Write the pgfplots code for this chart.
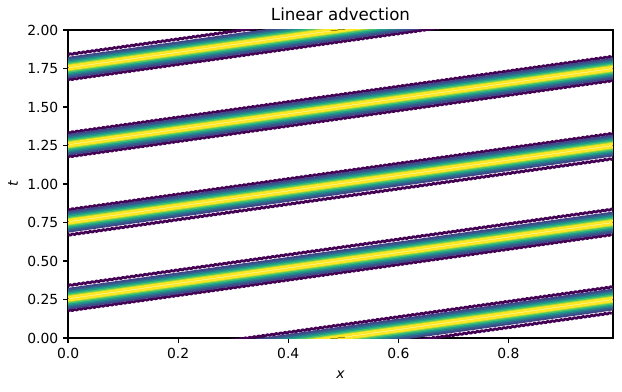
\documentclass[border=0pt]{standalone}
\usepackage{fontspec}
\setmainfont{DejaVu Sans}
\usepackage{pgfplots}
\pgfplotsset{compat=1.18}
\usetikzlibrary{decorations.pathmorphing}
\definecolor{v0}{HTML}{440154}
\definecolor{v1}{HTML}{414487}
\definecolor{v2}{HTML}{365C8D}
\definecolor{v3}{HTML}{277F8E}
\definecolor{v4}{HTML}{1FA187}
\definecolor{v5}{HTML}{4AC16D}
\definecolor{v6}{HTML}{A0DA39}
\definecolor{v7}{HTML}{FDE725}
\begin{document}
\begin{tikzpicture}
\begin{axis}[
  scale only axis,
  width=392.4pt, height=221.8pt,
  xmin=0, xmax=0.99, ymin=0, ymax=2,
  xtick={0,0.2,0.4,0.6,0.8},
  ytick={0,0.25,0.5,0.75,1,1.25,1.5,1.75,2},
  xticklabel style={/pgf/number format/.cd,fixed,fixed zerofill,precision=1},
  yticklabel style={/pgf/number format/.cd,fixed,fixed zerofill,precision=2},
  /pgf/number format/assume math mode=true,
  tick label style={font=\fontsize{10}{12}\selectfont},
  label style={font=\fontsize{10}{12}\selectfont},
  xlabel style={yshift=-2pt},
  tick align=outside, tick pos=left,
  major tick length=3.5pt,
  every tick/.style={black, line width=0.8pt},
  axis line style={line width=0.8pt},
  xlabel={\textit{x}}, ylabel={\textit{t}},
  title={Linear advection},
  title style={font=\fontsize{12}{14}\selectfont, yshift=-3pt},
  unbounded coords=jump,
  every axis plot/.append style={line width=1.5pt, no markers},
]
% level 0 (outer, wiggly)
\addplot[color=v0, line width=1.9pt, line join=round, decorate, decoration={snake, amplitude=0.45pt, segment length=3.2pt}] coordinates {
(0,-0.163) (0.99,0.332) (0.5,nan)
(0,-0.327) (0.99,0.168) (0.5,nan)
(0,0.337) (0.99,0.832) (0.5,nan)
(0,0.173) (0.99,0.668) (0.5,nan)
(0,0.837) (0.99,1.332) (0.5,nan)
(0,0.673) (0.99,1.168) (0.5,nan)
(0,1.337) (0.99,1.832) (0.5,nan)
(0,1.173) (0.99,1.668) (0.5,nan)
(0,1.837) (0.99,2.332) (0.5,nan)
(0,1.673) (0.99,2.168)
};
\addplot[color=v1] coordinates {
(0,-0.181) (0.99,0.314) (0.5,nan)
(0,-0.309) (0.99,0.186) (0.5,nan)
(0,0.319) (0.99,0.814) (0.5,nan)
(0,0.191) (0.99,0.686) (0.5,nan)
(0,0.819) (0.99,1.314) (0.5,nan)
(0,0.691) (0.99,1.186) (0.5,nan)
(0,1.319) (0.99,1.814) (0.5,nan)
(0,1.191) (0.99,1.686) (0.5,nan)
(0,1.819) (0.99,2.314) (0.5,nan)
(0,1.691) (0.99,2.186)
};
\addplot[color=v2] coordinates {
(0,-0.191) (0.99,0.304) (0.5,nan)
(0,-0.299) (0.99,0.196) (0.5,nan)
(0,0.309) (0.99,0.804) (0.5,nan)
(0,0.201) (0.99,0.696) (0.5,nan)
(0,0.809) (0.99,1.304) (0.5,nan)
(0,0.701) (0.99,1.196) (0.5,nan)
(0,1.309) (0.99,1.804) (0.5,nan)
(0,1.201) (0.99,1.696) (0.5,nan)
(0,1.809) (0.99,2.304) (0.5,nan)
(0,1.701) (0.99,2.196)
};
\addplot[color=v3] coordinates {
(0,-0.201) (0.99,0.294) (0.5,nan)
(0,-0.289) (0.99,0.206) (0.5,nan)
(0,0.299) (0.99,0.794) (0.5,nan)
(0,0.211) (0.99,0.706) (0.5,nan)
(0,0.799) (0.99,1.294) (0.5,nan)
(0,0.711) (0.99,1.206) (0.5,nan)
(0,1.299) (0.99,1.794) (0.5,nan)
(0,1.211) (0.99,1.706) (0.5,nan)
(0,1.799) (0.99,2.294) (0.5,nan)
(0,1.711) (0.99,2.206)
};
\addplot[color=v4] coordinates {
(0,-0.210) (0.99,0.285) (0.5,nan)
(0,-0.280) (0.99,0.215) (0.5,nan)
(0,0.290) (0.99,0.785) (0.5,nan)
(0,0.220) (0.99,0.715) (0.5,nan)
(0,0.790) (0.99,1.285) (0.5,nan)
(0,0.720) (0.99,1.215) (0.5,nan)
(0,1.290) (0.99,1.785) (0.5,nan)
(0,1.220) (0.99,1.715) (0.5,nan)
(0,1.790) (0.99,2.285) (0.5,nan)
(0,1.720) (0.99,2.215)
};
\addplot[color=v5] coordinates {
(0,-0.219) (0.99,0.276) (0.5,nan)
(0,-0.271) (0.99,0.224) (0.5,nan)
(0,0.281) (0.99,0.776) (0.5,nan)
(0,0.229) (0.99,0.724) (0.5,nan)
(0,0.781) (0.99,1.276) (0.5,nan)
(0,0.729) (0.99,1.224) (0.5,nan)
(0,1.281) (0.99,1.776) (0.5,nan)
(0,1.229) (0.99,1.724) (0.5,nan)
(0,1.781) (0.99,2.276) (0.5,nan)
(0,1.729) (0.99,2.224)
};
\addplot[color=v6] coordinates {
(0,-0.228) (0.99,0.267) (0.5,nan)
(0,-0.262) (0.99,0.233) (0.5,nan)
(0,0.272) (0.99,0.767) (0.5,nan)
(0,0.238) (0.99,0.733) (0.5,nan)
(0,0.772) (0.99,1.267) (0.5,nan)
(0,0.738) (0.99,1.233) (0.5,nan)
(0,1.272) (0.99,1.767) (0.5,nan)
(0,1.238) (0.99,1.733) (0.5,nan)
(0,1.772) (0.99,2.267) (0.5,nan)
(0,1.738) (0.99,2.233)
};
\addplot[color=v7, line width=1.8pt] coordinates {
(0,-0.235) (0.99,0.260) (0.5,nan)
(0,-0.255) (0.99,0.240) (0.5,nan)
(0,0.265) (0.99,0.760) (0.5,nan)
(0,0.245) (0.99,0.740) (0.5,nan)
(0,0.765) (0.99,1.260) (0.5,nan)
(0,0.745) (0.99,1.240) (0.5,nan)
(0,1.265) (0.99,1.760) (0.5,nan)
(0,1.245) (0.99,1.740) (0.5,nan)
(0,1.765) (0.99,2.260) (0.5,nan)
(0,1.745) (0.99,2.240)
};
\path (rel axis cs:0,0) ++(-49pt,-38.2pt) coordinate (bl);
\path (rel axis cs:1,1) ++(6.5pt,21.6pt) coordinate (tr);
\end{axis}
\pgfresetboundingbox
\path[use as bounding box] (bl) rectangle (tr);
\end{tikzpicture}
\end{document}
